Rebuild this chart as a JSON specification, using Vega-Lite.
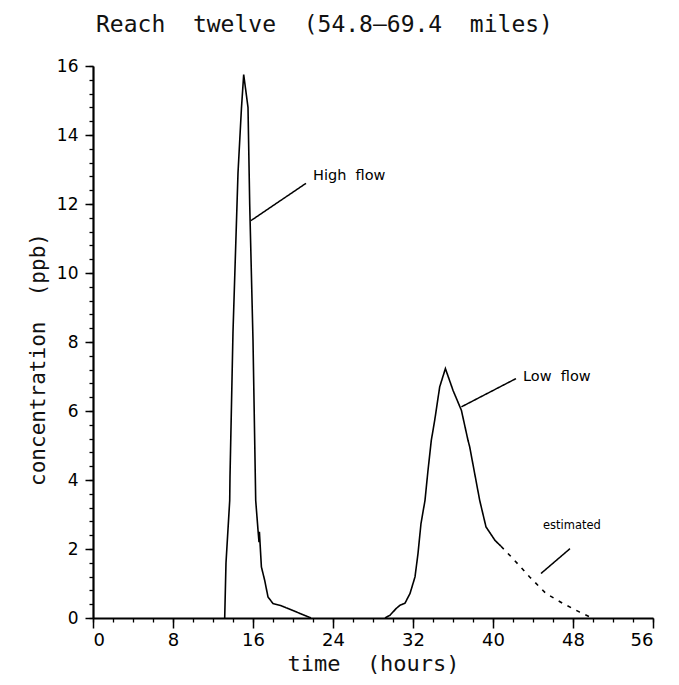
{
  "$schema": "https://vega.github.io/schema/vega-lite/v6.json",
  "width": 560,
  "height": 552,
  "autosize": {"type": "none"},
  "padding": {"left": 93, "top": 66, "right": 26, "bottom": 67},
  "background": "white",
  "title": {
    "text": "Reach\u00a0\u00a0twelve\u00a0\u00a0(54.8–69.4\u00a0\u00a0miles)",
    "anchor": "start",
    "frame": "group",
    "dx": 3,
    "offset": 20,
    "fontSize": 23,
    "font": "DejaVu Sans Mono",
    "fontWeight": "normal",
    "color": "#111"
  },
  "config": {
    "view": {"stroke": null},
    "axis": {
      "domainColor": "black",
      "tickColor": "black",
      "labelColor": "black",
      "titleColor": "#111",
      "labelFont": "DejaVu Sans",
      "titleFont": "DejaVu Sans Mono",
      "titleFontWeight": "normal",
      "grid": false
    }
  },
  "datasets": {
    "curves": [
      {"series": "high", "t": 13.17, "c": 0},
      {"series": "high", "t": 13.3, "c": 1.6},
      {"series": "high", "t": 13.67, "c": 3.4},
      {"series": "high", "t": 13.7, "c": 4.1},
      {"series": "high", "t": 14.0, "c": 8.3},
      {"series": "high", "t": 14.5, "c": 12.9},
      {"series": "high", "t": 14.85, "c": 14.8},
      {"series": "high", "t": 15.07, "c": 15.75},
      {"series": "high", "t": 15.5, "c": 14.8},
      {"series": "high", "t": 15.67, "c": 12.0},
      {"series": "high", "t": 16.0, "c": 8.05},
      {"series": "high", "t": 16.27, "c": 3.41},
      {"series": "high", "t": 16.5, "c": 2.55},
      {"series": "high", "t": 16.64, "c": 2.5},
      {"series": "high", "t": 16.6, "c": 2.2},
      {"series": "high", "t": 16.84, "c": 1.48},
      {"series": "high", "t": 17.17, "c": 1.09},
      {"series": "high", "t": 17.5, "c": 0.61},
      {"series": "high", "t": 18.0, "c": 0.42},
      {"series": "high", "t": 18.67, "c": 0.37},
      {"series": "high", "t": 19.3, "c": 0.3},
      {"series": "high", "t": 21.8, "c": 0},
      {"series": "low", "t": 29.2, "c": 0},
      {"series": "low", "t": 29.7, "c": 0.08},
      {"series": "low", "t": 30.3, "c": 0.27},
      {"series": "low", "t": 30.7, "c": 0.37},
      {"series": "low", "t": 31.2, "c": 0.43},
      {"series": "low", "t": 31.7, "c": 0.71},
      {"series": "low", "t": 32.2, "c": 1.19},
      {"series": "low", "t": 32.5, "c": 1.87},
      {"series": "low", "t": 32.8, "c": 2.74},
      {"series": "low", "t": 33.2, "c": 3.41},
      {"series": "low", "t": 33.5, "c": 4.28},
      {"series": "low", "t": 33.83, "c": 5.15},
      {"series": "low", "t": 34.17, "c": 5.73},
      {"series": "low", "t": 34.67, "c": 6.7},
      {"series": "low", "t": 35.24, "c": 7.23},
      {"series": "low", "t": 36.0, "c": 6.6},
      {"series": "low", "t": 36.84, "c": 6.02},
      {"series": "low", "t": 37.5, "c": 5.15},
      {"series": "low", "t": 37.67, "c": 4.96},
      {"series": "low", "t": 38.67, "c": 3.41},
      {"series": "low", "t": 39.3, "c": 2.64},
      {"series": "low", "t": 40.2, "c": 2.25},
      {"series": "low", "t": 40.8, "c": 2.08},
      {"series": "estimated", "t": 40.8, "c": 2.08},
      {"series": "estimated", "t": 42.0, "c": 1.72},
      {"series": "estimated", "t": 43.67, "c": 1.19},
      {"series": "estimated", "t": 45.3, "c": 0.71},
      {"series": "estimated", "t": 47.0, "c": 0.42},
      {"series": "estimated", "t": 48.67, "c": 0.17},
      {"series": "estimated", "t": 49.7, "c": 0.03}
    ],
    "leaders": [
      {"id": "high", "style": "solid", "t": 21.3, "c": 12.6},
      {"id": "high", "style": "solid", "t": 15.8, "c": 11.52},
      {"id": "low", "style": "solid", "t": 42.3, "c": 6.94},
      {"id": "low", "style": "solid", "t": 36.84, "c": 6.12},
      {"id": "est", "style": "dash", "t": 47.7, "c": 2.01},
      {"id": "est", "style": "dash", "t": 44.8, "c": 1.29}
    ],
    "labels": [
      {"text": "High\u00a0\u00a0flow", "t": 22.0, "c": 12.8, "size": 14.5},
      {"text": "Low\u00a0\u00a0flow", "t": 43.0, "c": 7.0, "size": 14.5},
      {"text": "estimated", "t": 45.0, "c": 2.66, "size": 11.5}
    ]
  },
  "layer": [
    {
      "data": {"name": "curves"},
      "mark": {"type": "line", "color": "black", "strokeWidth": 1.6, "clip": false},
      "encoding": {
        "x": {
          "field": "t", "type": "quantitative",
          "scale": {"domain": [0, 56], "nice": false, "zero": false},
          "axis": {
            "orient": "bottom",
            "values": [0, 8, 16, 24, 32, 40, 48, 56],
            "tickSize": 10, "tickWidth": 1.5, "domainWidth": 2.2,
            "labelFontSize": 18, "labelPadding": 3,
            "title": "time\u00a0\u00a0(hours)", "titleFontSize": 22, "titlePadding": 4
          }
        },
        "y": {
          "field": "c", "type": "quantitative",
          "scale": {"domain": [0, 16], "nice": false},
          "axis": {
            "orient": "left",
            "values": [0, 2, 4, 6, 8, 10, 12, 14, 16],
            "tickSize": 8, "tickWidth": 1.5, "domainWidth": 2.2,
            "labelFontSize": 17, "labelPadding": 7,
            "title": "concentration\u00a0\u00a0(ppb)", "titleFontSize": 21, "titlePadding": 8,
            "titleY": 293
          }
        },
        "detail": {"field": "series"},
        "strokeDash": {
          "field": "series", "type": "nominal",
          "scale": {"domain": ["high", "low", "estimated"], "range": [[1, 0], [1, 0], [4, 6]]},
          "legend": null
        }
      }
    },
    {
      "data": {"name": "leaders"},
      "mark": {"type": "line", "color": "black", "strokeWidth": 1.5},
      "encoding": {
        "x": {"field": "t", "type": "quantitative", "axis": null},
        "y": {"field": "c", "type": "quantitative", "axis": null},
        "detail": {"field": "id"},
        "strokeDash": {
          "field": "style", "type": "nominal",
          "scale": {"domain": ["solid", "dash"], "range": [[1, 0], [12, 5]]},
          "legend": null
        }
      }
    },
    {
      "data": {"name": "labels"},
      "mark": {"type": "text", "align": "left", "baseline": "middle", "font": "DejaVu Sans", "color": "black"},
      "encoding": {
        "x": {
          "field": "t", "type": "quantitative",
          "axis": {
            "orient": "bottom",
            "values": [0, 2, 4, 6, 8, 10, 12, 14, 16, 18, 20, 22, 24, 26, 28, 30, 32, 34, 36, 38, 40, 42, 44, 46, 48, 50, 52, 54, 56],
            "tickSize": 4, "tickWidth": 1.3, "domain": false, "labels": false, "title": null
          }
        },
        "y": {
          "field": "c", "type": "quantitative",
          "axis": {
            "orient": "left",
            "values": [0, 0.4, 0.8, 1.2, 1.6, 2, 2.4, 2.8, 3.2, 3.6, 4, 4.4, 4.8, 5.2, 5.6, 6, 6.4, 6.8, 7.2, 7.6, 8, 8.4, 8.8, 9.2, 9.6, 10, 10.4, 10.8, 11.2, 11.6, 12, 12.4, 12.8, 13.2, 13.6, 14, 14.4, 14.8, 15.2, 15.6, 16],
            "tickSize": 4, "tickWidth": 1.3, "domain": false, "labels": false, "title": null
          }
        },
        "text": {"field": "text"},
        "size": {"field": "size", "type": "quantitative", "scale": null}
      }
    }
  ],
  "resolve": {"axis": {"x": "independent", "y": "independent"}}
}
